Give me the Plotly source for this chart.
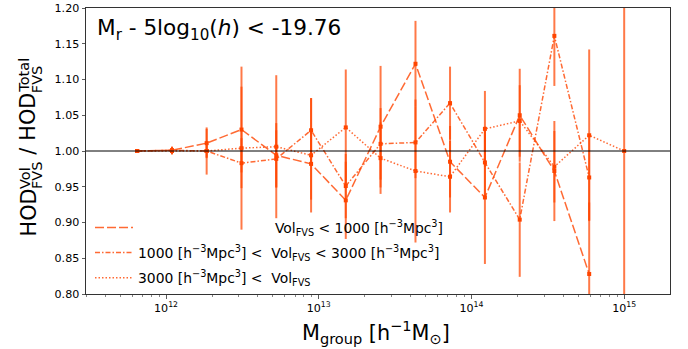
import plotly.graph_objects as go

# ---------------- data ----------------
mass = [6.47e11, 1.094e12, 1.845e12, 3.12e12, 5.27e12, 8.91e12, 1.503e13,
        2.54e13, 4.30e13, 7.24e13, 1.225e14, 2.07e14, 3.49e14, 5.90e14, 1.0e15]

ratio_lt1000 = [1.000, 1.001, 1.011, 1.030, 0.994, 0.982, 0.931, 1.034,
                1.122, 0.985, 0.935, 1.050, 0.972, 0.828]
err_lt1000 = [0.0, 0.005, 0.020, 0.060, 0.045, 0.050, 0.054, 0.085,
              0.060, 0.050, 0.093, 0.065, 0.070, 0.100]

ratio_1000_3000 = [1.000, 1.001, 1.000, 0.983, 0.989, 1.029, 0.951, 1.010,
                   1.012, 1.067, 0.984, 0.904, 1.161, 0.963]
err_1000_3000 = [0.0, 0.005, 0.010, 0.035, 0.040, 0.045, 0.045, 0.050,
                 0.050, 0.051, 0.050, 0.080, 0.070, 0.060]

ratio_gt3000 = [1.000, 1.000, 1.000, 1.004, 1.006, 0.994, 1.033, 0.990,
                0.972, 0.964, 1.031, 1.042, 0.978, 1.022, 1.000]
err_gt3000 = [0.0, 0.005, 0.033, 0.114, 0.100, 0.080, 0.081, 0.050,
              0.100, 0.050, 0.053, 0.050, 0.050, 0.120, 0.300]

labels = [
    "\u00a0" * 31 + "Vol<sub>FVS</sub> &lt; 1000 [h<sup>\u22123</sup>Mpc<sup>3</sup>]",
    "1000 [h<sup>\u22123</sup>Mpc<sup>3</sup>] &lt;\u00a0\u00a0Vol<sub>FVS</sub> &lt; 3000 [h<sup>\u22123</sup>Mpc<sup>3</sup>]",
    "3000 [h<sup>\u22123</sup>Mpc<sup>3</sup>] &lt;\u00a0\u00a0Vol<sub>FVS</sub>",
]
x_tick_vals = [1e12, 1e13, 1e14, 1e15]
x_tick_text = ["10<sup>12</sup>", "10<sup>13</sup>", "10<sup>14</sup>", "10<sup>15</sup>"]

# ---------------- styling ----------------
FONT = "DejaVu Sans"
W, H = 688, 349
L, R, T, B = 86, 18, 8, 55
PW, PH = W - L - R, H - T - B
LINE_COL = "rgba(255,69,0,0.8)"
ERR_COL = "rgba(255,69,0,0.72)"
MARK_COL = "rgb(255,69,0)"
dashes = ["9px,3px", "5px,2px,1.5px,2px", "1.5px,2px"]


def px_x(px):
    return (px - L) / PW


def px_y(py):
    return (H - B - py) / PH


fig = go.Figure()
series = [(ratio_lt1000, err_lt1000), (ratio_1000_3000, err_1000_3000),
          (ratio_gt3000, err_gt3000)]
for (vals, errs), dash in zip(series, dashes):
    fig.add_trace(go.Scatter(
        x=mass[:len(vals)], y=vals, mode="lines+markers",
        line=dict(color=LINE_COL, width=1.5, dash=dash),
        marker=dict(symbol="square", size=4, color=MARK_COL),
        error_y=dict(type="data", array=errs, visible=True, color=ERR_COL,
                     thickness=2, width=0),
        showlegend=False, hoverinfo="skip"))

for i, (lab, dash) in enumerate(zip(labels, dashes)):
    fig.add_trace(go.Scatter(
        x=[None], y=[None], mode="lines", name=lab, legendgroup=f"g{i}",
        line=dict(color=LINE_COL, width=1.5, dash=dash)))

fig.add_hline(y=1.0, line=dict(color="black", width=1))

minor_vals = [m * 10 ** e for e in range(11, 16) for m in range(2, 10)]

fig.update_xaxes(
    type="log", range=[11.476, 15.30], showgrid=False, zeroline=False,
    automargin=False,
    showline=True, mirror=True, linecolor="#333", linewidth=1,
    ticks="outside", ticklen=3.5, tickwidth=0.8, tickcolor="#333",
    tickvals=x_tick_vals, ticktext=x_tick_text,
    tickfont=dict(family=FONT, size=11.1, color="black"),
    minor=dict(tickvals=minor_vals, ticks="outside", ticklen=2,
               tickwidth=0.6, tickcolor="#333", showgrid=False))
fig.update_yaxes(
    range=[0.8, 1.2], dtick=0.05, tickformat=".2f", showgrid=False,
    automargin=False,
    zeroline=False, showline=True, mirror=True, linecolor="#333",
    linewidth=1, ticks="outside", ticklen=3.5, tickwidth=0.8,
    tickcolor="#333", tickfont=dict(family=FONT, size=11.1, color="black"))

ann = []
# title inside the plot
ann.append(dict(text="M<sub>r</sub> - 5log<sub>10</sub>(<i>h</i>) &lt; -19.76",
                x=px_x(95), y=px_y(29.5), xref="paper", yref="paper",
                xanchor="left", yanchor="middle", showarrow=False,
                font=dict(family=FONT, size=21.6, color="black")))
# x axis title
ann.append(dict(text="M<sub>group</sub> [h<sup>\u22121</sup>M<sub>\u2299</sub>]",
                x=px_x(376), y=px_y(332), xref="paper", yref="paper",
                xanchor="center", yanchor="middle", showarrow=False,
                font=dict(family=FONT, size=20.8, color="black")))
# y axis title, built from stacked pieces
F = 20.8
S = F * 0.7
yb = 238.0
pieces = [
    ("HOD", F, 28.5, yb),
    ("Vol", S, 24.0, yb - 48.0),
    ("FVS", S, 36.0, yb - 48.0),
    ("/", F, 28.5, yb - 48.0 - 27.6 - 6.6),
    ("HOD", F, 28.5, yb - 48.0 - 27.6 - 20.2),
    ("Total", S, 24.0, yb - 48.0 - 27.6 - 20.2 - 48.0),
    ("FVS", S, 36.0, yb - 48.0 - 27.6 - 20.2 - 48.0),
]
for txt, size, cx, bottom in pieces:
    ann.append(dict(text=txt, x=px_x(cx), y=px_y(bottom), xref="paper",
                    yref="paper", xanchor="center", yanchor="bottom",
                    textangle=-90, showarrow=False, borderpad=0,
                    font=dict(family=FONT, size=size, color="black")))

fig.update_layout(
    width=W, height=H, margin=dict(l=L, r=R, t=T, b=B, autoexpand=False),
    paper_bgcolor="white", plot_bgcolor="white",
    annotations=ann,
    legend=dict(x=px_x(90), y=px_y(212), xanchor="left", yanchor="top",
                bgcolor="rgba(0,0,0,0)", borderwidth=0, itemwidth=38,
                tracegroupgap=4,
                font=dict(family=FONT, size=13.9, color="black")),
)

fig.write_html("out.html",
               config={"displayModeBar": False, "staticPlot": True},
               post_script="document.body.style.margin='0';"
                           "document.body.style.overflow='hidden';")
